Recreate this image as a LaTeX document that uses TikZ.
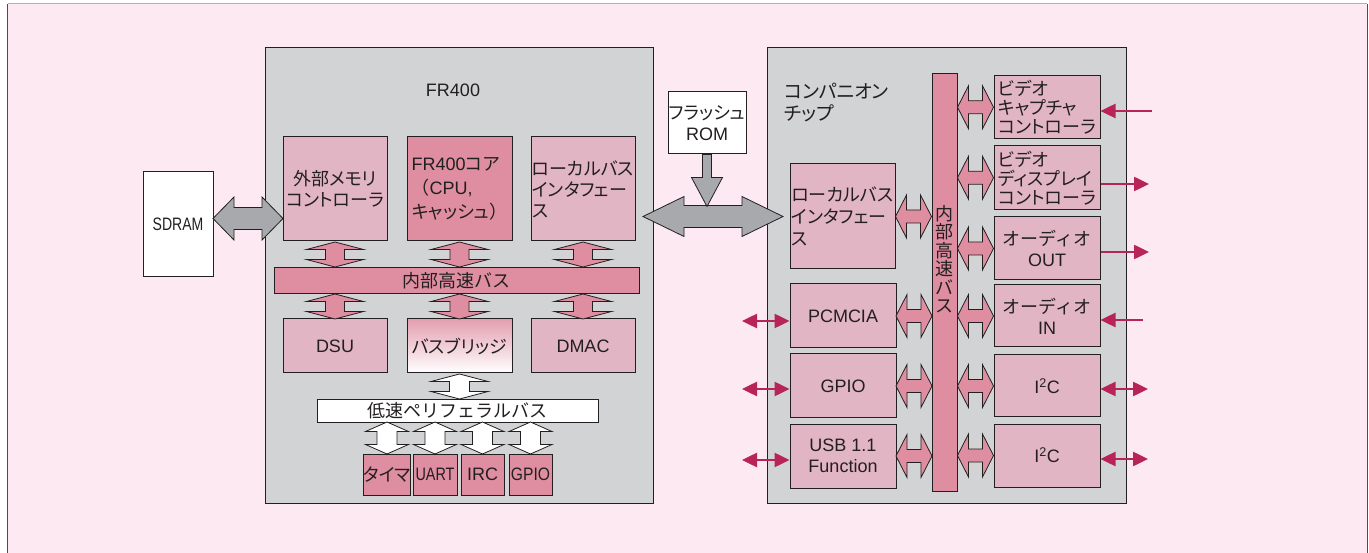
\documentclass[tikz,border=0pt]{standalone}
\usepackage{fontspec}
\usepackage{graphicx}
\setmainfont{Liberation Sans}
\newfontfamily\jp[RawFeature=+palt]{Noto Sans CJK JP}
\newfontfamily\jpf{Noto Sans CJK JP}
\usetikzlibrary{arrows.meta,calc}

\definecolor{bgpink}{HTML}{FCE9F1}
\definecolor{chipgray}{HTML}{D1D3D4}
\definecolor{pinkL}{HTML}{E2B5C4}
\definecolor{pinkD}{HTML}{DE8EA0}
\definecolor{sigC}{HTML}{B82358}
\definecolor{grayA}{HTML}{A7A9AC}
\definecolor{lineC}{HTML}{231F20}

\newcommand{\latsize}{\fontsize{18}{21}\selectfont}
\newcommand{\jpsize}{\jp\fontsize{18}{21}\selectfont}
% double block arrow: style, centre, half length, half head, half shaft, head length
\newcommand{\dblarrow}[6]{%
  \path[shift={(#2)},#1] (-#3,0) -- (-#3+#6,-#4) -- (-#3+#6,-#5) -- (#3-#6,-#5) -- (#3-#6,-#4) -- (#3,0)
    -- (#3-#6,#4) -- (#3-#6,#5) -- (-#3+#6,#5) -- (-#3+#6,#4) -- cycle;}

\begin{document}
\begin{tikzpicture}[x=1pt,y=-1pt,
    every node/.style={text=lineC, font=\latsize},
    box/.style={draw=lineC, line width=1pt, inner sep=0pt, align=center},
    sz/.style 2 args={minimum width=#1pt, minimum height=#2pt},
    pinkarrow/.style={draw=lineC, line width=0.8pt, fill=pinkD},
    whitearrow/.style={draw=lineC, line width=0.8pt, fill=white},
    grayarrow/.style={draw=lineC, line width=0.8pt, fill=grayA},
    sig/.style={draw=sigC, line width=2.5pt, -{Triangle[length=15pt,width=14pt]}},
    sigboth/.style={sig, {Triangle[length=15pt,width=14pt]}-{Triangle[length=15pt,width=14pt]}}]
  \useasboundingbox (0,0) rectangle (1369,553);
  \fill[bgpink] (7.5,4) rectangle (1367,560);
  \draw[gray!60, line width=1pt] (7.5,4) -- (1367,4);
  \draw[lineC!80, line width=1pt] (7.5,4) -- (7.5,560);
  \draw[lineC!80, line width=1pt] (1367,4) -- (1367,560);

  % FR400
  \node[box, fill=chipgray, sz={388}{455}] (fr400) at (459,275.5) {};
  \node (fr400lbl) at (453,90) {FR400};
  \node[box, fill=white, sz={70}{105}] (sdram) at (178,224.5) {\scalebox{0.78}[1]{SDRAM}};
  \node[box, fill=pinkL, sz={104}{104}, font=\jpsize] (extmem) at (335,189) {外部メモリ\\コントローラ};
  \node[box, fill=pinkD, sz={105}{104}, font=\fontsize{18}{24}\selectfont, align=left] (core) at (459.5,189) {FR400{\jp コア}\\{\jpf （}CPU,\\{\jp キャッシュ}{\jpf ）}};
  \node[box, fill=pinkL, sz={104}{104}, font=\jpsize, align=left] (lbusF) at (583,189) {ローカルバス\\インタフェー\\ス};
  \node[box, fill=pinkD, sz={365}{26}, font=\jpf\fontsize{18}{21}\selectfont] (hbus) at (456.5,281) {内部高速バス};
  \node[box, fill=pinkL, sz={104}{54}] (dsu) at (335,346) {DSU};
  \node[box, top color=pinkD!85, bottom color=white, sz={105}{54}, font=\jpsize] (bridge) at (459.5,346) {バスブリッジ};
  \node[box, fill=pinkL, sz={104}{54}] (dmac) at (583,346) {DMAC};
  \node[box, fill=white, sz={281}{22}, font=\jpf\fontsize{18}{21}\selectfont] (lbar) at (457.5,411) {低速ペリフェラルバス};
  \node[box, fill=pinkD, sz={44}{41}, font=\jpsize] (timer) at (387,474.5) {タイマ};
  \node[box, fill=pinkD, sz={44}{41}] (uart) at (435,474.5) {\scalebox{0.8}[1]{UART}};
  \node[box, fill=pinkD, sz={43}{41}] (irc) at (482.5,474.5) {IRC};
  \node[box, fill=pinkD, sz={43}{41}] (gpioF) at (530.5,474.5) {\scalebox{0.87}[1]{GPIO}};

  \foreach \b in {extmem,core,lbusF}
    {\dblarrow{pinkarrow,rotate=90}{$(\b.south)!0.5!(hbus.north -| \b.south)$}{12.5}{28.5}{9.5}{7.5}}
  \foreach \b in {dsu,bridge,dmac}
    {\dblarrow{pinkarrow,rotate=90}{$(hbus.south -| \b.north)!0.5!(\b.north)$}{12.5}{28.5}{9.5}{7.5}}
  \dblarrow{whitearrow,rotate=90}{$(bridge.south)!0.5!(lbar.north -| bridge.south)$}{12.5}{28.5}{10}{7.5}
  \foreach \b in {timer,uart,irc,gpioF}
    {\dblarrow{whitearrow,rotate=90}{$(lbar.south -| \b.north)!0.5!(\b.north)$}{16}{21.5}{10}{9.5}}
  \dblarrow{grayarrow}{$(sdram.east)!0.5!(sdram.east -| extmem.west)+(0,-6)$}{35}{21.5}{11}{21}

  % flash and local bus
  \node[box, fill=white, sz={78}{62}] (rom) at (707,123) {{\jp フラッシュ}\\ROM};

  % companion chip
  \node[box, fill=chipgray, sz={359}{455}] (chip) at (946.5,275.5) {};
  \node[font=\jp\fontsize{19}{22}\selectfont, align=left, anchor=west, inner sep=0pt] (chiplbl) at (784,103) {コンパニオン\\チップ};
  \node[box, fill=pinkD, sz={25}{417}] (cbus) at (944.5,282.5) {};
  \node[font=\jp\fontsize{18}{18.5}\selectfont, align=center, inner sep=0pt] (cbuslbl) at (944.5,259) {内\\部\\高\\速\\バ\\ス};
  \node[box, fill=pinkL, sz={105}{105}, font=\jp\fontsize{18}{22}\selectfont, align=left] (lbusC) at (842.5,216.5) {ローカルバス\\インタフェー\\ス};
  \node[box, fill=pinkL, sz={106}{64}] (pcmcia) at (843,316) {PCMCIA};
  \node[box, fill=pinkL, sz={106}{64}] (gpioC) at (843,386) {GPIO};
  \node[box, fill=pinkL, sz={106}{64}] (usb) at (843,456) {USB 1.1\\Function};
  \node[box, fill=pinkL, sz={106}{63.5}, font=\jp\fontsize{18}{19}\selectfont, align=left] (vcap) at (1047,107.25) {ビデオ\\キャプチャ\\コントローラ};
  \node[box, fill=pinkL, sz={106}{63.5}, font=\jp\fontsize{18}{19}\selectfont, align=left] (vdisp) at (1047,177.75) {ビデオ\\ディスプレイ\\コントローラ};
  \node[box, fill=pinkL, sz={106}{63}] (aout) at (1047,248.5) {{\jpf オーディオ}\\OUT};
  \node[box, fill=pinkL, sz={106}{62}] (ain) at (1047,316) {{\jpf オーディオ}\\IN};
  \node[box, fill=pinkL, sz={106}{62}] (i2cA) at (1047,386) {I\textsuperscript{2}C};
  \node[box, fill=pinkL, sz={106}{63}] (i2cB) at (1047,455.5) {I\textsuperscript{2}C};

  \dblarrow{grayarrow}{$(fr400.east |- lbusC.west)!0.5!(chip.west |- lbusC.west)+(3,0)$}{70}{20}{11}{41}
  \path[grayarrow, shift={(rom.south)}] (-4.5,0) -- (-4.5,23) -- (-15.5,23) -- (0,52) -- (15.5,23) -- (4.5,23) -- (4.5,0) -- cycle;

  \foreach \b in {lbusC,pcmcia,gpioC,usb}
    {\dblarrow{pinkarrow}{$(\b.east)!0.5!(cbus.west |- \b.east)$}{18}{21.5}{6.5}{11}}
  \foreach \b in {vcap,vdisp,aout,ain,i2cA,i2cB}
    {\dblarrow{pinkarrow}{$(cbus.east |- \b.west)!0.5!(\b.west)$}{18}{21.5}{6.5}{11}}

  % external signals
  \coordinate (capin) at (1152,111);
  \coordinate (dispout) at (1149,184);
  \coordinate (aoutx) at (1149,252);
  \coordinate (ainx) at (1143,320);
  \coordinate (i2cAx) at (1148,389);
  \coordinate (i2cBx) at (1148,459);
  \coordinate (pcmx) at (742,321);
  \coordinate (gpiox) at (742,389);
  \coordinate (usbx) at (742,460);
  \draw[sig] (capin) -- (capin -| vcap.east);
  \draw[sig] (dispout -| vdisp.east) -- (dispout);
  \draw[sig] (aoutx -| aout.east) -- (aoutx);
  \draw[sig] (ainx) -- (ainx -| ain.east);
  \draw[sigboth] (i2cAx -| i2cA.east) -- (i2cAx);
  \draw[sigboth] (i2cBx -| i2cB.east) -- (i2cBx);
  \draw[sigboth] (pcmx) -- (pcmx -| pcmcia.west);
  \draw[sigboth] (gpiox) -- (gpiox -| gpioC.west);
  \draw[sigboth] (usbx) -- (usbx -| usb.west);
\end{tikzpicture}
\end{document}
